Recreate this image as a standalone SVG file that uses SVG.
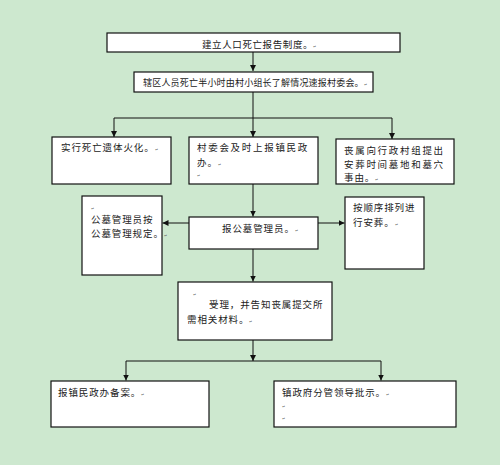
<svg xmlns="http://www.w3.org/2000/svg" width="500" height="465" viewBox="0 0 500 465">
<defs>
<marker id="ah" markerUnits="userSpaceOnUse" markerWidth="7" markerHeight="7" refX="6" refY="3" orient="auto">
<path d="M0,0 L6,3 L0,6 z" fill="#111"/>
</marker>
<style>
.box{fill:#fff;stroke:#111;stroke-width:1.2}
.t{font-family:"Noto Sans CJK SC","Noto Sans",sans-serif;font-size:9.5px;fill:#222;letter-spacing:0.9px}
.w{letter-spacing:1.7px}
.m{font-size:4px;fill:#666;letter-spacing:0}
.c{fill:none;stroke:#111;stroke-width:1}
</style>
</defs>
<rect width="500" height="465" fill="#cde8cf"/>
<g id="connectors">
<path class="c" d="M253,52 V71" marker-end="url(#ah)"/>
<path class="c" d="M253,92 V118 M114,118 H392"/>
<path class="c" d="M114,118 V137" marker-end="url(#ah)"/>
<path class="c" d="M253,118 V137" marker-end="url(#ah)"/>
<path class="c" d="M392,118 V139" marker-end="url(#ah)"/>
<path class="c" d="M253,184 V216.5" marker-end="url(#ah)"/>
<path class="c" d="M189,223 H162.5" marker-end="url(#ah)"/>
<path class="c" d="M318,223 H344.5" marker-end="url(#ah)"/>
<path class="c" d="M253,249 V281.5" marker-end="url(#ah)"/>
<path class="c" d="M253,340 V361" marker-end="url(#ah)"/>
<path class="c" d="M126,361 H381"/>
<path class="c" d="M126,361 V380.5" marker-end="url(#ah)"/>
<path class="c" d="M381,361 V380.5" marker-end="url(#ah)"/>
</g>
<g id="n1">
<rect class="box" x="107" y="33" width="293" height="19"/>
<text class="t" x="202" y="48" style="letter-spacing:0.6px">建立人口死亡报告制度。<tspan class="m">↵</tspan></text>
</g>
<g id="n2">
<rect class="box" x="134" y="72" width="239" height="20"/>
<text class="t" x="143" y="86" style="font-size:9px;letter-spacing:0.2px">辖区人员死亡半小时由村小组长了解情况速报村委会。<tspan class="m">↵</tspan></text>
</g>
<g id="n3">
<rect class="box" x="52" y="137" width="119" height="47"/>
<text class="t" x="61" y="151">实行死亡遗体火化。<tspan class="m">↵</tspan></text>
</g>
<g id="n4">
<rect class="box" x="189" y="137" width="129" height="47"/>
<text class="t w" x="197" y="151">村委会及时上报镇民政</text>
<text class="t" x="197" y="166">办。<tspan class="m">↵</tspan></text>
<text class="t m" x="197" y="177">↵</text>
</g>
<g id="n5">
<rect class="box" x="336" y="139" width="118" height="45"/>
<text class="t w" x="344" y="154">丧属向行政村组提出</text>
<text class="t w" x="344" y="168">安葬时间墓地和墓穴</text>
<text class="t" x="344" y="181">事由。<tspan class="m">↵</tspan></text>
</g>
<g id="n6">
<rect class="box" x="82" y="196" width="80" height="79"/>
<text class="t m" x="91" y="210">↵</text>
<text class="t" x="91" y="223">公墓管理员按</text>
<text class="t" x="91" y="237">公墓管理规定。<tspan class="m">↵</tspan></text>
</g>
<g id="n7">
<rect class="box" x="189" y="217" width="129" height="32"/>
<text class="t" x="222" y="232">报公墓管理员。<tspan class="m">↵</tspan></text>
</g>
<g id="n8">
<rect class="box" x="345" y="197" width="79" height="72"/>
<text class="t" x="353" y="211">按顺序排列进</text>
<text class="t" x="353" y="226">行安葬。<tspan class="m">↵</tspan></text>
</g>
<g id="n9">
<rect class="box" x="178" y="282" width="154" height="58"/>
<text class="t m" x="193" y="296">↵</text>
<text class="t" x="209" y="308">受理，并告知丧属提交所</text>
<text class="t" x="187" y="323">需相关材料。<tspan class="m">↵</tspan></text>
</g>
<g id="n10">
<rect class="box" x="51" y="381" width="158" height="46"/>
<text class="t" x="58" y="396">报镇民政办备案。<tspan class="m">↵</tspan></text>
</g>
<g id="n11">
<rect class="box" x="274" y="381" width="182" height="46"/>
<text class="t" x="282" y="396">镇政府分管领导批示。<tspan class="m">↵</tspan></text>
<text class="t m" x="282" y="408">↵</text>
<text class="t m" x="282" y="420">↵</text>
</g>
</svg>
